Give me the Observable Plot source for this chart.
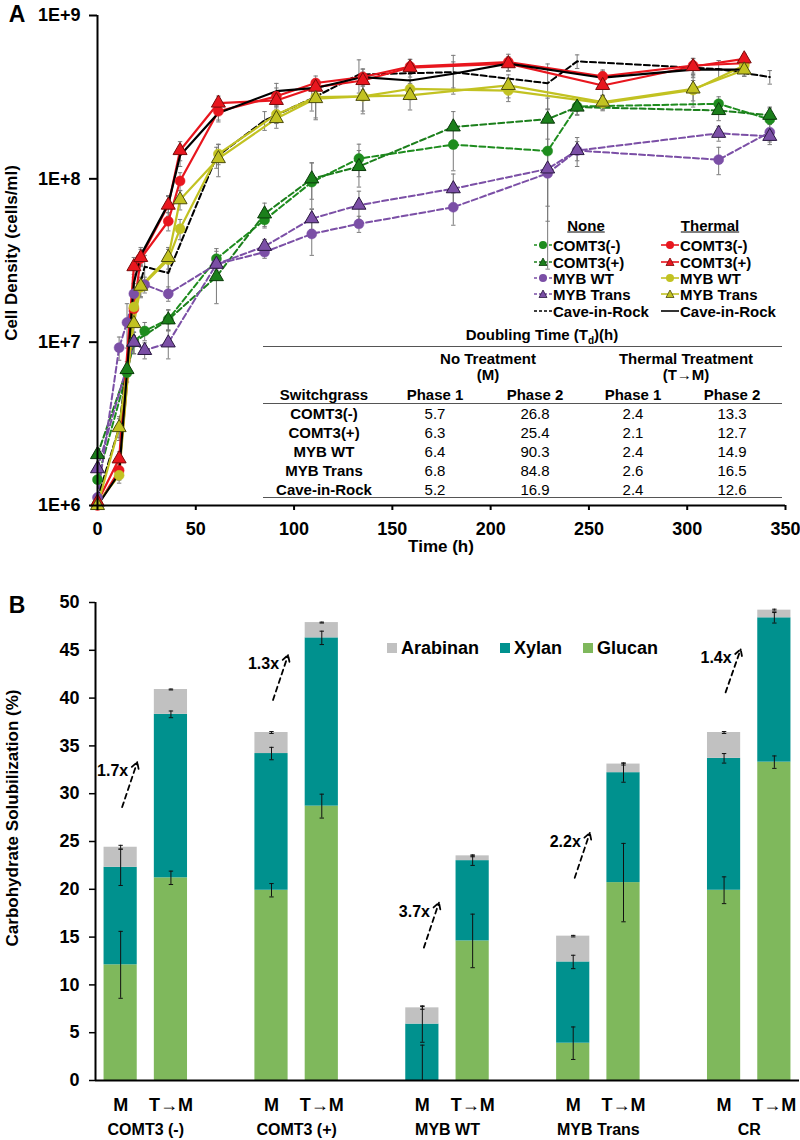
<!DOCTYPE html>
<html><head><meta charset="utf-8">
<script src="https://cdn.jsdelivr.net/npm/d3@7"></script>
<script src="https://cdn.jsdelivr.net/npm/@observablehq/plot@0.6"></script>
<style>
body{margin:0;background:#fff;font-family:"Liberation Sans",Arial,sans-serif;}
#root{position:relative;width:800px;height:1140px;overflow:hidden;background:#fff}
#root svg.plot{position:absolute;left:0}
.abs{position:absolute;white-space:nowrap;color:#000;line-height:1}
.hl{position:absolute;height:0;border-top:1.5px solid #555}
</style></head><body><div id="root"></div>
<script>
// ---------- Panel A data (cell density, cells/ml) ----------
const xTicksA = [0, 50, 100, 150, 200, 250, 300, 350];
const yTicksA = [1e6, 1e7, 1e8, 1e9];
const strainNames = ["COMT3(-)", "COMT3(+)", "MYB WT", "MYB Trans", "Cave-in-Rock"];

// No treatment (None) series
const none_comt3m_t = [0, 15, 18.5, 24, 36, 60.5, 85, 109, 133, 181, 229, 244, 316, 342];
const none_comt3m_v = [1.44e6, 6.5e6, 1.0e7, 1.17e7, 1.38e7, 3.24e7, 5.6e7, 9.55e7, 1.33e8, 1.62e8, 1.48e8, 2.77e8, 2.88e8, 2.31e8];
const none_comt3m_e = [1e5, 8e5, 1.5e6, 1.5e6, 2e6, 5e6, 6e6, 3e7, 3e7, 5e7, 1.2e8, 3e7, 3e7, 4e7];

const none_comt3p_t = [0, 15, 18.5, 36, 60.5, 85, 109, 133, 181, 229, 244, 316, 342];
const none_comt3p_v = [2.05e6, 6.8e6, 1.0e7, 1.37e7, 2.52e7, 6.1e7, 1.0e8, 1.19e8, 2.08e8, 2.32e8, 2.75e8, 2.62e8, 2.45e8];
const none_comt3p_e = [2e5, 8e5, 1.5e6, 2e6, 8e6, 1e7, 2.5e7, 3e7, 5e7, 8e7, 3e7, 3.5e7, 3e7];

const none_mybwt_t = [0, 11, 15, 18.5, 24, 36, 60.5, 85, 109, 133, 181, 229, 244, 316, 342];
const none_mybwt_v = [1.12e6, 9.25e6, 1.32e7, 1.98e7, 2.25e7, 1.98e7, 3.0e7, 3.56e7, 4.6e7, 5.3e7, 6.7e7, 1.08e8, 1.49e8, 1.31e8, 1.93e8];
const none_mybwt_e = [1e5, 1.5e6, 4e6, 3e6, 2.5e6, 2e6, 4e6, 3e6, 1.2e7, 6e6, 1.5e7, 4e7, 2e7, 2.5e7, 2.5e7];

const none_mybtr_t = [0, 18.5, 24, 36, 60.5, 85, 109, 133, 181, 229, 244, 316, 342];
const none_mybtr_v = [1.68e6, 1.0e7, 8.9e6, 9.9e6, 3.0e7, 3.86e7, 5.7e7, 6.9e7, 8.7e7, 1.15e8, 1.49e8, 1.9e8, 1.82e8];
const none_mybtr_e = [2e5, 1.5e6, 1e6, 2e6, 6e6, 4e6, 8e6, 1.5e7, 2e7, 6e7, 3e7, 2e7, 2e7];

const none_cir_t = [0, 11, 18.5, 24, 36, 60.5, 85, 109, 133, 181, 229, 244, 316, 342];
const none_cir_v = [1.1e6, 3.0e6, 1.6e7, 2.9e7, 2.65e7, 1.36e8, 2.28e8, 3.1e8, 4.35e8, 4.5e8, 3.85e8, 5.24e8, 4.7e8, 4.2e8];
const none_cir_e = [1e5, 5e5, 3e6, 5e6, 8e6, 2e7, 3e7, 5e7, 1.0e8, 1.2e8, 1.2e8, 5e7, 6e7, 4e7];

// Thermal treatment series
const th_comt3m_t = [0, 11, 18.5, 22, 36, 42, 61.5, 91, 111, 135, 159, 209, 257, 303, 329];
const th_comt3m_v = [1.0e6, 1.64e6, 1.6e7, 3.25e7, 5.5e7, 9.7e7, 2.59e8, 3.2e8, 3.86e8, 4.2e8, 4.87e8, 5.19e8, 4.24e8, 4.94e8, 5.1e8];
const th_comt3m_e = [1e5, 2e5, 2e6, 3e6, 7e6, 1.2e7, 3e7, 4e7, 4e7, 5e7, 5e7, 6e7, 4e7, 5e7, 4e7];

const th_comt3p_t = [0, 11, 18.5, 22, 36, 42, 61.5, 91, 111, 135, 159, 209, 257, 303, 329];
const th_comt3p_v = [1.05e6, 1.93e6, 2.9e7, 3.3e7, 6.9e7, 1.49e8, 2.91e8, 3.02e8, 3.64e8, 4.0e8, 4.8e8, 5.07e8, 3.73e8, 4.87e8, 5.43e8];
const th_comt3p_e = [1e5, 2e5, 4e6, 4e6, 1e7, 2e7, 3e7, 3e7, 4e7, 5e7, 6e7, 5e7, 5e7, 6e7, 4e7];

const th_mybwt_t = [0, 11, 18.5, 22, 36, 42, 61.5, 91, 111, 135, 159, 209, 257, 303, 329];
const th_mybwt_v = [1.03e6, 1.53e6, 1.64e7, 2.17e7, 3.2e7, 4.94e7, 1.42e8, 2.48e8, 3.16e8, 3.2e8, 3.55e8, 3.47e8, 2.91e8, 3.5e8, 4.94e8];
const th_mybwt_e = [1e5, 1e5, 2e6, 3e6, 5e6, 7e6, 2e7, 3e7, 8e7, 6e7, 5e7, 5e7, 3e7, 5e7, 3e7];

const th_mybtr_t = [0, 11, 18.5, 22, 36, 42, 61.5, 91, 111, 135, 159, 209, 257, 303, 329];
const th_mybtr_v = [1.0e6, 3.0e6, 1.3e7, 2.2e7, 3.3e7, 7.45e7, 1.33e8, 2.34e8, 3.1e8, 3.2e8, 3.24e8, 3.73e8, 2.95e8, 3.55e8, 4.64e8];
const th_mybtr_e = [1e5, 4e5, 2e6, 3e6, 5e6, 1e7, 3e7, 3e7, 8e7, 7e7, 6e7, 6e7, 3e7, 8e7, 4e7];

const th_cir_t = [0, 11, 18.5, 22, 36, 42, 61.5, 91, 111, 135, 159, 181, 209, 257, 303, 329];
const th_cir_v = [1.0e6, 1.57e6, 2.3e7, 3.4e7, 7.0e7, 1.39e8, 2.53e8, 3.44e8, 3.6e8, 4.2e8, 4.0e8, 4.4e8, 5.07e8, 4.16e8, 4.66e8, 4.66e8];
const th_cir_e = [1e5, 2e5, 3e6, 4e6, 8e6, 2e7, 3e7, 4e7, 4e7, 5e7, 5e7, 8e7, 5e7, 4e7, 5e7, 4e7];

// Doubling time table
const tdStrains = ["COMT3(-)", "COMT3(+)", "MYB WT", "MYB Trans", "Cave-in-Rock"];
const tdNoneP1 = [5.7, 6.3, 6.4, 6.8, 5.2];
const tdNoneP2 = [26.8, 25.4, 90.3, 84.8, 16.9];
const tdThermP1 = [2.4, 2.1, 2.4, 2.6, 2.4];
const tdThermP2 = [13.3, 12.7, 14.9, 16.5, 12.6];

// ---------- Panel B data (carbohydrate solubilization, %) ----------
const groupsB = ["COMT3 (-)", "COMT3 (+)", "MYB WT", "MYB Trans", "CR"];
const treatB = ["M", "T\u2192M"];
const components = ["Arabinan", "Xylan", "Glucan"];
// order: group0 M, group0 T→M, group1 M, ...
const glucanB = [12.1, 21.2, 19.9, 28.7, 0.0, 14.6, 3.9, 20.7, 19.9, 33.3];
const xylanB = [10.2, 17.1, 14.3, 17.6, 5.9, 8.4, 8.5, 11.5, 13.8, 15.1];
const arabinanB = [2.1, 2.6, 2.2, 1.6, 1.7, 0.5, 2.7, 0.9, 2.7, 0.8];
const glucanErrB = [3.5, 0.7, 0.7, 1.25, 3.7, 2.8, 1.7, 4.1, 1.4, 0.65];
const xylanErrB = [1.9, 0.35, 0.65, 0.7, 1.9, 0.5, 0.7, 1.0, 0.5, 0.55];
const arabinanErrB = [0.2, 0.05, 0.1, 0.05, 0.15, 0.1, 0.08, 0.1, 0.1, 0.1];
const yTicksB = [0, 5, 10, 15, 20, 25, 30, 35, 40, 45, 50];
const foldLabels = ["1.7x", "1.3x", "3.7x", "2.2x", "1.4x"];
const foldFrom = [28.6, 39.8, 13.9, 21.2, 40.6];
const foldTo = [33.3, 44.5, 18.6, 25.9, 45.1];

// ---------- styling ----------
const GREEN = "#1e8c1e", PURPLE = "#7b4fa6", RED = "#e8161e", YELLOW = "#c2c222", BLACK = "#000";
const compColor = {Glucan: "#7fb85c", Xylan: "#00918e", Arabinan: "#c1c1c1"};
const FONT = '"Liberation Sans", Arial, sans-serif';
const capSymbol = {draw(ctx, size) { const r = Math.sqrt(size / Math.PI); ctx.moveTo(-r, 0); ctx.lineTo(r, 0); }};

const seriesA = [
  {treat: "None", name: strainNames[0], t: none_comt3m_t, v: none_comt3m_v, e: none_comt3m_e, color: GREEN, sym: "circle"},
  {treat: "None", name: strainNames[1], t: none_comt3p_t, v: none_comt3p_v, e: none_comt3p_e, color: "#1b7f1b", sym: "triangle", edge: "#0b3a0b"},
  {treat: "None", name: strainNames[2], t: none_mybwt_t, v: none_mybwt_v, e: none_mybwt_e, color: PURPLE, sym: "circle"},
  {treat: "None", name: strainNames[3], t: none_mybtr_t, v: none_mybtr_v, e: none_mybtr_e, color: PURPLE, sym: "triangle", edge: "#2a1840"},
  {treat: "None", name: strainNames[4], t: none_cir_t, v: none_cir_v, e: none_cir_e, color: BLACK, sym: null},
  {treat: "Thermal", name: strainNames[0], t: th_comt3m_t, v: th_comt3m_v, e: th_comt3m_e, color: RED, sym: "circle"},
  {treat: "Thermal", name: strainNames[1], t: th_comt3p_t, v: th_comt3p_v, e: th_comt3p_e, color: RED, sym: "triangle", edge: "#7a0a0a"},
  {treat: "Thermal", name: strainNames[2], t: th_mybwt_t, v: th_mybwt_v, e: th_mybwt_e, color: YELLOW, sym: "circle"},
  {treat: "Thermal", name: strainNames[3], t: th_mybtr_t, v: th_mybtr_v, e: th_mybtr_e, color: YELLOW, sym: "triangle", edge: "#4a4a0c"},
  {treat: "Thermal", name: strainNames[4], t: th_cir_t, v: th_cir_v, e: th_cir_e, color: BLACK, sym: null}
];
const rowsA = seriesA.flatMap(s => s.t.map((t, i) => ({
  key: s.treat + "|" + s.name, treat: s.treat, t, v: s.v[i], lo: s.v[i] - s.e[i], hi: s.v[i] + s.e[i],
  color: s.color, sym: s.sym, edge: s.edge
})));
const capsA = rowsA.flatMap(d => [{t: d.t, y: d.lo}, {t: d.t, y: d.hi}]);

const root = document.getElementById("root");

const chartA = Plot.plot({
  width: 800, height: 545, marginLeft: 97, marginRight: 15, marginTop: 15, marginBottom: 40,
  style: {fontFamily: FONT, fontSize: "18px", fontWeight: "bold", color: "#000", background: "transparent", overflow: "visible"},
  x: {domain: [0, 350]},
  y: {type: "log", domain: [1e6, 1e9]},
  color: {type: "identity"},
  marks: [
    Plot.ruleX(rowsA, {x: "t", y1: "lo", y2: "hi", stroke: "#7a7a7a", strokeWidth: 1, clip: true}),
    Plot.dot(capsA, {x: "t", y: "y", symbol: capSymbol, r: 2.2, stroke: "#7a7a7a", fill: "none", strokeWidth: 1, clip: true}),
    Plot.line(rowsA.filter(d => d.treat === "None"), {x: "t", y: "v", z: "key", stroke: "color", strokeWidth: 2, strokeDasharray: "6,3"}),
    Plot.line(rowsA.filter(d => d.treat === "Thermal"), {x: "t", y: "v", z: "key", stroke: "color", strokeWidth: 2.2}),
    Plot.dot(rowsA.filter(d => d.sym === "circle"), {x: "t", y: "v", r: 5, symbol: "circle", fill: "color", stroke: "color", strokeWidth: 0.5}),
    Plot.dot(rowsA.filter(d => d.sym === "triangle"), {x: "t", y: "v", r: 5.2, symbol: "triangle", fill: "color", stroke: "edge", strokeWidth: 1}),
    Plot.axisY({ticks: yTicksA, tickFormat: d => "1E+" + Math.round(Math.log10(d)), tickSize: 8, tickPadding: 9, strokeWidth: 2, label: null}),
    Plot.axisX({ticks: xTicksA, tickFormat: d => String(d), tickSize: 5, tickPadding: 12, strokeWidth: 2, label: null}),
    Plot.ruleX([0], {strokeWidth: 2}),
    Plot.ruleY([1e6], {strokeWidth: 2})
  ]
});
chartA.style.position = "absolute"; chartA.style.top = "0px"; chartA.style.left = "0px";
root.appendChild(chartA);

// ---------- Panel B ----------
const barRows = [], errRows = [];
groupsB.forEach((g, gi) => treatB.forEach((tr, ti) => {
  const k = gi * 2 + ti, pos = gi * 3 + ti;
  const g1 = glucanB[k], x1 = g1 + xylanB[k], a1 = x1 + arabinanB[k];
  barRows.push({pos, comp: "Glucan", y1: 0, y2: g1});
  barRows.push({pos, comp: "Xylan", y1: g1, y2: x1});
  barRows.push({pos, comp: "Arabinan", y1: x1, y2: a1});
  errRows.push({pos, y: g1, e: glucanErrB[k]});
  errRows.push({pos, y: x1, e: xylanErrB[k]});
  errRows.push({pos, y: a1, e: arabinanErrB[k]});
}));
const errLines = errRows.map(d => ({pos: d.pos, lo: Math.max(0, d.y - d.e), hi: d.y + d.e}));
const errCaps = errLines.flatMap(d => (d.lo > 0 ? [{pos: d.pos, y: d.lo}] : []).concat([{pos: d.pos, y: d.hi}]));
const foldRows = foldLabels.map((l, i) => ({pos: i * 3, label: l, from: foldFrom[i], to: foldTo[i]}));
const treatTicks = groupsB.flatMap((g, gi) => treatB.map((t, ti) => gi * 3 + ti));
const groupTicks = groupsB.map((g, gi) => gi * 3 + 0.5);
const xDomB = [-0.5, groupsB.length * 3 - 1.5];

const chartB = Plot.plot({
  width: 800, height: 590, marginLeft: 95, marginRight: 1, marginTop: 52, marginBottom: 60,
  style: {fontFamily: FONT, fontSize: "18px", fontWeight: "bold", color: "#000", background: "transparent", overflow: "visible"},
  x: {domain: xDomB},
  y: {domain: [0, 50]},
  color: {type: "identity"},
  marks: [
    Plot.rect(barRows, {x1: d => d.pos - 0.33, x2: d => d.pos + 0.33, y1: "y1", y2: "y2", fill: d => compColor[d.comp]}),
    Plot.ruleX(errLines, {x: "pos", y1: "lo", y2: "hi", stroke: "#111", strokeWidth: 1}),
    Plot.dot(errCaps, {x: "pos", y: "y", symbol: capSymbol, r: 2.2, stroke: "#111", fill: "none", strokeWidth: 1}),
    Plot.arrow(foldRows, {x1: d => d.pos + 0.03, x2: d => d.pos + 0.33, y1: "from", y2: "to", stroke: "#000", strokeWidth: 1.8, strokeDasharray: "5,4", headLength: 6}),
    Plot.text(foldRows, {x: d => d.pos + 0.33, y: "to", text: "label", textAnchor: "end", dx: -9, dy: 9, fontSize: 16, fontWeight: "bold", fill: "#000"}),
    Plot.axisY({ticks: yTicksB, tickFormat: d => String(d), tickSize: 6, tickPadding: 10, strokeWidth: 1.5, label: null}),
    Plot.axisX({ticks: treatTicks, tickFormat: p => treatB[Math.round(p) % 3], tickSize: 0, tickPadding: 18, label: null}),
    Plot.axisX({ticks: groupTicks, tickFormat: p => groupsB[Math.round((p - 0.5) / 3)], tickSize: 0, tickPadding: 43, fontSize: 16, label: null}),
    Plot.ruleX([xDomB[0]], {strokeWidth: 2}),
    Plot.ruleY([0], {strokeWidth: 2})
  ]
});
chartB.style.position = "absolute"; chartB.style.top = "550px"; chartB.style.left = "0px";
root.appendChild(chartB);

// ---------- HTML text overlays ----------
function place(html, x, y, opts = {}) {
  const el = document.createElement("div");
  el.className = "abs";
  el.innerHTML = html;
  el.style.left = x + "px"; el.style.top = y + "px";
  el.style.fontSize = (opts.size || 15) + "px";
  el.style.fontWeight = opts.weight || "bold";
  const ax = opts.anchor === "start" ? "0" : opts.anchor === "end" ? "-100%" : "-50%";
  el.style.transform = `translate(${ax},-50%)` + (opts.rotate ? " rotate(-90deg)" : "");
  if (opts.underline) el.style.textDecoration = "underline";
  root.appendChild(el);
  return el;
}
function hline(x1, x2, y) {
  const el = document.createElement("div");
  el.className = "hl";
  el.style.left = x1 + "px"; el.style.width = (x2 - x1) + "px"; el.style.top = y + "px";
  root.appendChild(el);
}

place("A", 17, 14, {size: 23});
place("B", 17, 605, {size: 23});
place("Cell Density (cells/ml)", 11, 253, {size: 17, rotate: true});
place("Time (h)", 441, 546, {size: 17});
place("Carbohydrate Solubilization (%)", 12, 818, {size: 17, rotate: true});

// Panel A legend
place("None", 586, 225, {size: 15, underline: true});
place("Thermal", 710, 225, {size: 15, underline: true});
const legendY = [245, 262, 278, 294, 311];
seriesA.forEach((s, i) => {
  const col = s.treat === "None" ? 0 : 1;
  const row = i % 5;
  const x0 = col === 0 ? 534 : 661;
  const y0 = legendY[row];
  let marker = "";
  if (s.sym === "circle") marker = `<circle cx="9" cy="6" r="4" fill="${s.color}"/>`;
  if (s.sym === "triangle") marker = `<path d="M9,2 L13,9.5 L5,9.5 Z" fill="${s.color}" stroke="${s.edge}" stroke-width="0.8"/>`;
  const dash = s.treat === "None" ? ' stroke-dasharray="3,2"' : "";
  const svg = `<svg width="18" height="12" style="display:block"><line x1="0" y1="6" x2="18" y2="6" stroke="${s.color}" stroke-width="1.6"${dash}/>${marker}</svg>`;
  const el = document.createElement("div");
  el.className = "abs";
  el.style.left = x0 + "px"; el.style.top = (y0 - 6) + "px";
  el.innerHTML = svg;
  root.appendChild(el);
  place(s.name, x0 + 19, y0, {size: 15, anchor: "start"});
});

// Doubling time table
place("Doubling Time (T<sub style='font-size:10px'>d</sub>)(h)", 542, 336, {size: 15});
hline(263, 782, 346);
place("No Treatment", 488, 358, {size: 15});
place("(M)", 488, 374, {size: 15});
place("Thermal Treatment", 686, 358, {size: 15});
place("(T\u2192M)", 686, 374, {size: 15});
const colX = [324, 435, 535, 633, 732];
place("Switchgrass", colX[0], 394, {size: 15});
["Phase 1", "Phase 2", "Phase 1", "Phase 2"].forEach((h, i) => place(h, colX[i + 1], 394, {size: 15}));
hline(263, 782, 403);
const rowY = [413, 432, 451, 470, 489];
tdStrains.forEach((s, i) => {
  place(s, colX[0], rowY[i], {size: 15});
  [tdNoneP1, tdNoneP2, tdThermP1, tdThermP2].forEach((arr, j) =>
    place(arr[i].toFixed(1), colX[j + 1], rowY[i], {size: 15, weight: "normal"}));
});
hline(263, 782, 497);

// Panel B legend
const legB = [{c: "Arabinan", x: 387}, {c: "Xylan", x: 500}, {c: "Glucan", x: 583}];
legB.forEach(l => {
  const sq = document.createElement("div");
  sq.style.cssText = `position:absolute;left:${l.x}px;top:643px;width:10px;height:10px;background:${compColor[l.c]}`;
  root.appendChild(sq);
  place(l.c, l.x + 14, 648, {size: 18, anchor: "start"});
});
</script></body></html>
